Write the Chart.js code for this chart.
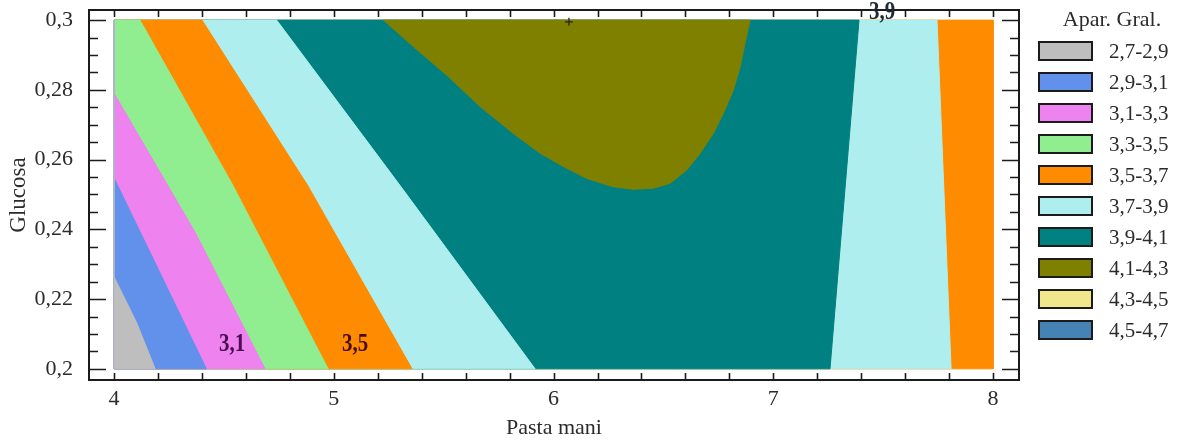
<!DOCTYPE html>
<html><head><meta charset="utf-8">
<script src="https://cdn.jsdelivr.net/npm/chart.js@4.4.1/dist/chart.umd.min.js"></script>
<style>html,body{margin:0;padding:0;background:#fff;overflow:hidden}#wrap{width:1182px;height:445px}</style>
</head><body><div id="wrap"><canvas id="c" width="1182" height="445"></canvas></div>
<script>
// ---- data (Pasta mani = x, Glucosa = y) ----
const xTicks = [4, 5, 6, 7, 8];
const xTickLabels = ['4', '5', '6', '7', '8'];
const yTicks = [0.2, 0.22, 0.24, 0.26, 0.28, 0.3];
const yTickLabels = ['0,2', '0,22', '0,24', '0,26', '0,28', '0,3'];
const legendLabels = ['2,7-2,9', '2,9-3,1', '3,1-3,3', '3,3-3,5', '3,5-3,7', '3,7-3,9', '3,9-4,1', '4,1-4,3', '4,3-4,5', '4,5-4,7'];
// contour boundaries (x, y), ordered top -> bottom
const b29 = [[4, 0.2264], [4.103, 0.2132], [4.187, 0.2]];
const b31 = [[4, 0.2547], [4.196, 0.2292], [4.42, 0.2]];
const b33 = [[4, 0.279], [4.37, 0.239], [4.687, 0.2]];
const b35 = [[4.118, 0.3], [4.54, 0.2527], [4.974, 0.2]];
const b37 = [[4.40, 0.3], [4.88, 0.2527], [5.356, 0.2]];
const b39 = [[4.74, 0.3], [5.30, 0.2527], [5.916, 0.2]];
const b41 = [[5.226, 0.3], [5.362, 0.2924], [5.514, 0.2842], [5.666, 0.2752], [5.817, 0.2675], [5.939, 0.2618], [6.045, 0.258], [6.151, 0.2546], [6.272, 0.2522], [6.363, 0.2515], [6.454, 0.2518], [6.53, 0.2532], [6.606, 0.257], [6.667, 0.2618], [6.727, 0.2675], [6.773, 0.2733], [6.818, 0.2799], [6.849, 0.2866], [6.871, 0.2933], [6.894, 0.3]];
const b39r = [[7.39, 0.3], [7.258, 0.2]];
const b37r = [[7.745, 0.3], [7.809, 0.2]];
const domainX = [4, 8];
const domainY = [0.2, 0.3];
const markerPoint = [[6.07, 0.2995]];
const contourLabels = ['3,1', '3,5', '3,9'];
const contourLabelX = [4.537, 5.097, 7.495];
const contourLabelY = [0.2069, 0.2069, 0.3023];

// ---- styles ----
const bandColors = ['#bebebe', '#6191ea', '#ee82ee', '#90ee90', '#ff8c00', '#afeeee', '#008080', '#808000', '#f0e68c', '#4682b4'];
const contourLabelColors = ['#4b0c52', '#4a0c10', '#1f2a35'];
const SERIF = '"Liberation Serif", "Times New Roman", serif';

const toPts = arr => arr.map(p => ({x: p[0], y: p[1]}));
const leftOf = b => toPts([...b, [domainX[0], domainY[0]], [domainX[0], domainY[1]], b[0]]);
const rect = toPts([[domainX[0], domainY[1]], [domainX[1], domainY[1]], [domainX[1], domainY[0]], [domainX[0], domainY[0]], [domainX[0], domainY[1]]]);
const olive = toPts([...b41, b41[0]]);

// layers, top-most first
const layers = [
  [leftOf(b29), 0], [leftOf(b31), 1], [leftOf(b33), 2], [leftOf(b35), 3],
  [leftOf(b37), 4], [leftOf(b39), 5], [olive, 7], [leftOf(b39r), 6],
  [leftOf(b37r), 5], [rect, 4]
];
const datasets = [{
  data: toPts(markerPoint), pointStyle: 'cross', pointRadius: 4, borderColor: '#26260e',
  borderWidth: 1.3, showLine: false, order: -1
}];
layers.forEach((l, i) => datasets.push({
  data: l[0], showLine: true, fill: 'shape', tension: 0, pointRadius: 0,
  backgroundColor: bandColors[l[1]], borderColor: bandColors[l[1]], borderWidth: 1, order: i
}));

const framePlugin = {
  id: 'frame',
  afterDatasetsDraw(chart) {
    const {ctx, chartArea: a, scales: {x, y}} = chart;
    ctx.save();
    ctx.strokeStyle = '#1b1b1b';
    ctx.lineWidth = 2;
    ctx.strokeRect(a.left, a.top, a.right - a.left, a.bottom - a.top);
    ctx.lineWidth = 1.6;
    ctx.beginPath();
    for (let k = 0; k <= 20; k++) {
      const v = domainX[0] + k * 0.2;
      const px = Math.round(x.getPixelForValue(v)) + 0.5;
      ctx.moveTo(px, a.bottom); ctx.lineTo(px, a.bottom - 7);
      ctx.moveTo(px, a.top); ctx.lineTo(px, a.top + 7);
    }
    for (let k = 0; k <= 20; k++) {
      const v = domainY[0] + k * 0.005;
      const py = Math.round(y.getPixelForValue(v)) + 0.5;
      const len = (k % 4 === 0) ? 17 : 9;
      ctx.moveTo(a.left, py); ctx.lineTo(a.left + len, py);
      ctx.moveTo(a.right, py); ctx.lineTo(a.right - len, py);
    }
    ctx.stroke();
    ctx.restore();
  },
  afterDraw(chart) {
    const {ctx, scales: {x, y}} = chart;
    ctx.save();
    ctx.textAlign = 'center';
    ctx.textBaseline = 'middle';
    contourLabels.forEach((t, i) => {
      ctx.save();
      ctx.translate(x.getPixelForValue(contourLabelX[i]), y.getPixelForValue(contourLabelY[i]));
      ctx.scale(1, 1.2);
      ctx.font = 'bold 21px ' + SERIF;
      ctx.fillStyle = contourLabelColors[i];
      ctx.fillText(t, 0, 0);
      ctx.restore();
    });
    // legend
    ctx.fillStyle = '#2b2b2b';
    ctx.font = '22px ' + SERIF;
    ctx.fillText('Apar. Gral.', 1112, 20);
    ctx.textAlign = 'left';
    ctx.font = '21px ' + SERIF;
    legendLabels.forEach((t, i) => {
      const top = 42 + i * 31;
      ctx.fillStyle = bandColors[i];
      ctx.fillRect(1039, top, 53, 18);
      ctx.strokeStyle = '#1b1b1b';
      ctx.lineWidth = 2;
      ctx.strokeRect(1039, top, 53, 18);
      ctx.fillStyle = '#2b2b2b';
      ctx.fillText(t, 1109, top + 10);
    });
    ctx.restore();
  }
};

new Chart(document.getElementById('c'), {
  type: 'scatter',
  data: {datasets},
  options: {
    responsive: false, animation: false, devicePixelRatio: 1,
    layout: {padding: {left: 0, right: 163, top: 10, bottom: 0}},
    plugins: {legend: {display: false}, tooltip: {enabled: false}},
    scales: {
      x: {
        type: 'linear', min: 3.886, max: 8.118,
        grid: {display: false, drawTicks: false}, border: {display: false},
        afterBuildTicks: s => { s.ticks = xTicks.map(v => ({value: v})); },
        afterFit: s => { s.height = 65; s.paddingLeft = 0; s.paddingRight = 0; },
        ticks: {
          autoSkip: false, maxRotation: 0, padding: 6, color: '#2b2b2b',
          font: {family: SERIF, size: 22},
          callback: v => xTickLabels[xTicks.indexOf(v)]
        },
        title: {display: true, text: 'Pasta mani', color: '#2b2b2b', font: {family: SERIF, size: 22}, padding: {top: 0, bottom: 4}}
      },
      y: {
        type: 'linear', min: 0.1968, max: 0.3029,
        grid: {display: false, drawTicks: false}, border: {display: false},
        afterBuildTicks: s => { s.ticks = yTicks.map(v => ({value: v})); },
        afterFit: s => { s.width = 89; s.paddingTop = 0; s.paddingBottom = 0; },
        ticks: {
          autoSkip: false, padding: 16, color: '#2b2b2b',
          font: {family: SERIF, size: 22},
          callback: v => { const i = yTicks.findIndex(t => Math.abs(t - v) < 1e-9); return i >= 0 ? yTickLabels[i] : ''; }
        },
        title: {display: true, text: 'Glucosa', color: '#2b2b2b', font: {family: SERIF, size: 23}, padding: {top: 5, bottom: 0}}
      }
    }
  },
  plugins: [framePlugin]
});
</script></body></html>
